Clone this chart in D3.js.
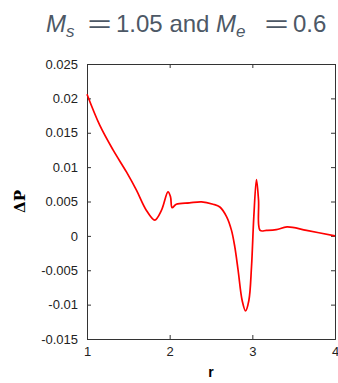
<!DOCTYPE html>
<html>
<head>
<meta charset="utf-8">
<script src="https://cdn.jsdelivr.net/npm/d3@7"></script>
<style>
  body { margin: 0; background: #fff; }
  svg text { font-family: "Liberation Sans", Arial, sans-serif; }
</style>
</head>
<body>
<div id="chart"></div>
<script>
// r values and pressure difference
const rValues = [1.0, 1.154, 1.315, 1.477, 1.598, 1.719, 1.82, 1.90, 1.98, 2.01, 2.03, 2.08, 2.24, 2.385, 2.525, 2.607, 2.688, 2.748, 2.788, 2.828, 2.877, 2.918, 2.958, 2.99, 3.018, 3.05, 3.075, 3.094, 3.17, 3.29, 3.42, 3.656, 4.0];
const dpValues = [0.0206, 0.0161, 0.0125, 0.0093, 0.00665, 0.0037, 0.0023, 0.0037, 0.0064, 0.0057, 0.0041, 0.0046, 0.0048, 0.00495, 0.0046, 0.0042, 0.0028, 0.0008, -0.0016, -0.005, -0.0094, -0.0109, -0.0094, -0.0045, 0.0028, 0.0082, 0.0052, 0.0008, 0.0008, 0.0009, 0.0013, 0.0008, 0.0];
const xTicks = [1, 2, 3, 4];
const yTicks = [-0.015, -0.01, -0.005, 0, 0.005, 0.01, 0.015, 0.02, 0.025];

const width = 338, height = 383;
const margin = { top: 64, right: 3, bottom: 44, left: 87 };
const w = width - margin.left - margin.right;
const h = height - margin.top - margin.bottom;

const svg = d3.select('#chart').append('svg')
  .attr('width', width)
  .attr('height', height);

// title, pieces placed like the math-typeset original
const title = svg.append('text')
  .attr('y', 32)
  .attr('fill', '#4d5866')
  .style('font-size', '24px');
title.append('tspan').attr('x', 46).style('font-style', 'italic').text('M');
title.append('tspan').attr('dy', 5).style('font-size', '17px').style('font-style', 'italic').text('s');
title.append('tspan').attr('x', 116).attr('dy', -5).text('1.05 and');
title.append('tspan').attr('x', 216).style('font-style', 'italic').text('M');
title.append('tspan').attr('dy', 5).style('font-size', '17px').style('font-style', 'italic').text('e');
title.append('tspan').attr('x', 293).attr('dy', -5).text('0.6');

// wide math equals signs
[87.5, 264.5].forEach(px => {
  svg.append('text')
    .attr('transform', `translate(${px},32) scale(1.72,1)`)
    .attr('fill', '#4d5866')
    .style('font-size', '24px')
    .text('=');
});

const g = svg.append('g')
  .attr('transform', `translate(${margin.left},${margin.top})`);

const x = d3.scaleLinear().domain([1, 4]).range([0, w]);
const y = d3.scaleLinear().domain([-0.015, 0.025]).range([h, 0]);

const fmt = d => (d === 0 ? '0' : String(+d.toFixed(3)));

// bottom and left axes with ticks pointing inward
const xAxis = g.append('g')
  .attr('transform', `translate(0,${h})`)
  .call(d3.axisBottom(x).tickValues(xTicks).tickSize(-4).tickPadding(8).tickFormat(d3.format('d')));
const yAxis = g.append('g')
  .call(d3.axisLeft(y).tickValues(yTicks).tickSize(-4).tickPadding(9).tickFormat(fmt));
// mirrored top and right ticks
const xTop = g.append('g')
  .call(d3.axisTop(x).tickValues(xTicks).tickSize(-4).tickFormat(''));
const yRight = g.append('g')
  .attr('transform', `translate(${w},0)`)
  .call(d3.axisRight(y).tickValues(yTicks).tickSize(-4).tickFormat(''));

[xAxis, yAxis, xTop, yRight].forEach(a => {
  a.select('.domain').attr('stroke', '#333').attr('stroke-width', 1);
  a.selectAll('.tick line').attr('stroke', '#333');
  a.selectAll('text').style('font-size', '13px').attr('fill', '#222');
});

const data = rValues.map((r, i) => ({ r, dp: dpValues[i] }));

g.append('path')
  .datum(data)
  .attr('fill', 'none')
  .attr('stroke', '#ff0000')
  .attr('stroke-width', 1.7)
  .attr('d', d3.line()
    .x(d => x(d.r))
    .y(d => y(d.dp))
    .curve(d3.curveCatmullRom.alpha(0.5)));

// axis labels
svg.append('text')
  .attr('x', margin.left + x(2.5))
  .attr('y', 377)
  .attr('text-anchor', 'middle')
  .style('font-size', '14px')
  .style('font-weight', 'bold')
  .text('r');

svg.append('text')
  .attr('transform', `translate(25,${margin.top + h / 2}) rotate(-90)`)
  .attr('text-anchor', 'middle')
  .style('font-family', '"DejaVu Serif", "Liberation Serif", serif')
  .style('font-size', '15px')
  .style('font-weight', 'bold')
  .text('ΔP');
</script>
</body>
</html>
